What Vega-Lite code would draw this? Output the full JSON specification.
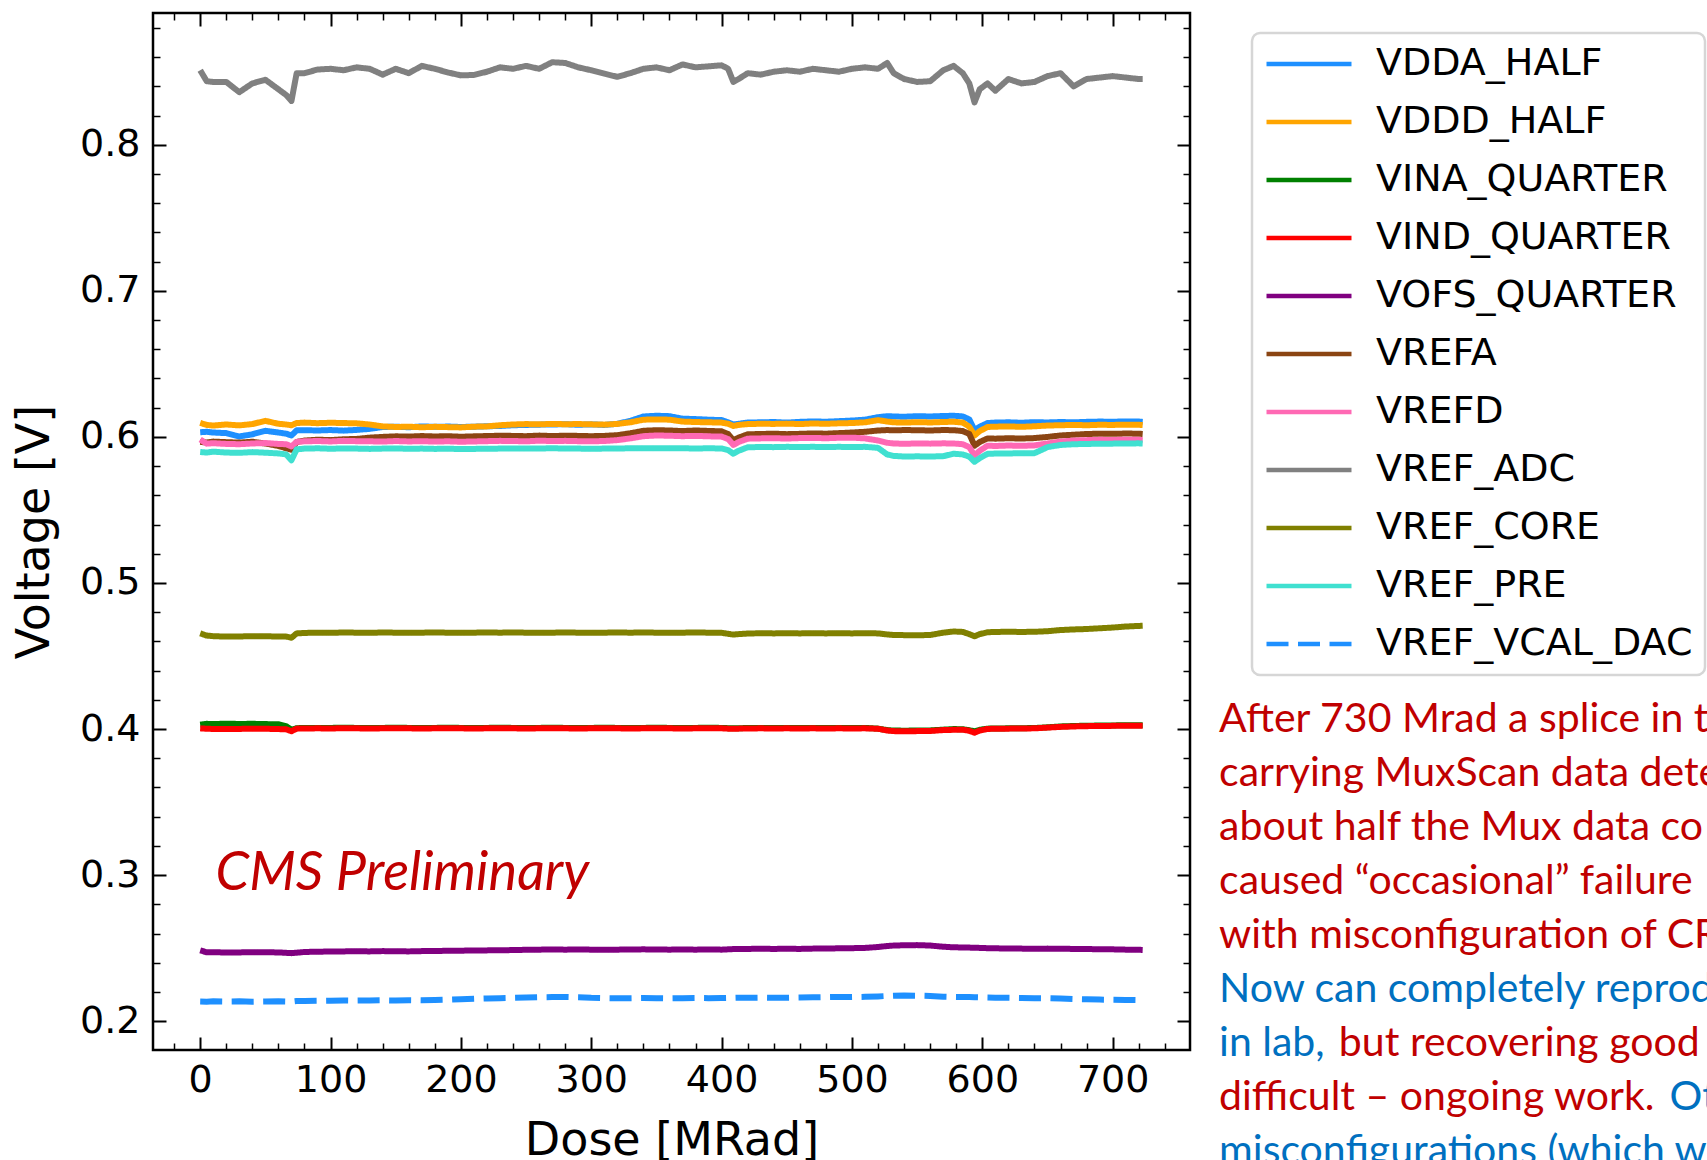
{
"$schema": "https://vega.github.io/schema/vega-lite/v6.json",
"width": 1037, "height": 1037,
"autosize": {"type": "none"},
"padding": {"left": 153, "top": 13, "right": 517, "bottom": 110},
"background": "white",
"config": {
  "font": "DejaVu Sans",
  "view": {"stroke": "black", "strokeWidth": 2.5},
  "axis": {"domain": false, "grid": false, "tickColor": "black", "labelColor": "black", "labelFont": "DejaVu Sans", "labelFontSize": 38, "titleFont": "DejaVu Sans", "titleFontSize": 46, "titleFontWeight": "normal", "titleColor": "black", "labelFlush": false, "labelOverlap": false}
},
"datasets": {"m": [
{"d":0,"VDDA_HALF":0.6032,"VDDD_HALF":0.6096,"VINA_QUARTER":0.4030,"VIND_QUARTER":0.4005,"VOFS_QUARTER":0.2485,"VREFA":0.5966,"VREFD":0.5982,"VREF_ADC":0.851,"VREF_CORE":0.4655,"VREF_PRE":0.5897,"VREF_VCAL_DAC":0.2135},
{"d":5,"VDDA_HALF":0.6035,"VDDD_HALF":0.6082,"VINA_QUARTER":0.4036,"VIND_QUARTER":0.4002,"VOFS_QUARTER":0.2472,"VREFA":0.5962,"VREFD":0.5954,"VREF_ADC":0.8435,"VREF_CORE":0.4640,"VREF_PRE":0.5893,"VREF_VCAL_DAC":0.2134},
{"d":10,"VDDA_HALF":0.6030,"VDDD_HALF":0.6078,"VINA_QUARTER":0.4034,"VIND_QUARTER":0.4001,"VOFS_QUARTER":0.2473,"VREFA":0.5968,"VREFD":0.5957,"VREF_ADC":0.843,"VREF_CORE":0.4636,"VREF_PRE":0.5899,"VREF_VCAL_DAC":0.2136},
{"d":20,"VDDA_HALF":0.6026,"VDDD_HALF":0.6085,"VINA_QUARTER":0.4037,"VIND_QUARTER":0.4000,"VOFS_QUARTER":0.2470,"VREFA":0.5964,"VREFD":0.5952,"VREF_ADC":0.843,"VREF_CORE":0.4633,"VREF_PRE":0.5893,"VREF_VCAL_DAC":0.2135},
{"d":30,"VDDA_HALF":0.6003,"VDDD_HALF":0.6079,"VINA_QUARTER":0.4035,"VIND_QUARTER":0.4001,"VOFS_QUARTER":0.2471,"VREFA":0.5961,"VREFD":0.5950,"VREF_ADC":0.836,"VREF_CORE":0.4634,"VREF_PRE":0.5891,"VREF_VCAL_DAC":0.2136},
{"d":40,"VDDA_HALF":0.6018,"VDDD_HALF":0.6088,"VINA_QUARTER":0.4036,"VIND_QUARTER":0.4003,"VOFS_QUARTER":0.2473,"VREFA":0.5967,"VREFD":0.5955,"VREF_ADC":0.842,"VREF_CORE":0.4636,"VREF_PRE":0.5896,"VREF_VCAL_DAC":0.2134},
{"d":50,"VDDA_HALF":0.6042,"VDDD_HALF":0.6110,"VINA_QUARTER":0.4034,"VIND_QUARTER":0.4002,"VOFS_QUARTER":0.2472,"VREFA":0.5955,"VREFD":0.5958,"VREF_ADC":0.8445,"VREF_CORE":0.4635,"VREF_PRE":0.5892,"VREF_VCAL_DAC":0.2135},
{"d":60,"VDDA_HALF":0.6030,"VDDD_HALF":0.6090,"VINA_QUARTER":0.4033,"VIND_QUARTER":0.4000,"VOFS_QUARTER":0.2471,"VREFA":0.5938,"VREFD":0.5952,"VREF_ADC":0.838,"VREF_CORE":0.4634,"VREF_PRE":0.5887,"VREF_VCAL_DAC":0.2136},
{"d":66,"VDDA_HALF":0.6022,"VDDD_HALF":0.6085,"VINA_QUARTER":0.4020,"VIND_QUARTER":0.3998,"VOFS_QUARTER":0.2468,"VREFA":0.5922,"VREFD":0.5950,"VREF_ADC":0.834,"VREF_CORE":0.4633,"VREF_PRE":0.5880,"VREF_VCAL_DAC":0.2135},
{"d":70,"VDDA_HALF":0.6010,"VDDD_HALF":0.6080,"VINA_QUARTER":0.3995,"VIND_QUARTER":0.3985,"VOFS_QUARTER":0.2466,"VREFA":0.5912,"VREFD":0.5935,"VREF_ADC":0.830,"VREF_CORE":0.4625,"VREF_PRE":0.5840,"VREF_VCAL_DAC":0.2134},
{"d":74,"VDDA_HALF":0.6045,"VDDD_HALF":0.6095,"VINA_QUARTER":0.4006,"VIND_QUARTER":0.4003,"VOFS_QUARTER":0.2469,"VREFA":0.5966,"VREFD":0.5966,"VREF_ADC":0.849,"VREF_CORE":0.4655,"VREF_PRE":0.5915,"VREF_VCAL_DAC":0.2138},
{"d":80,"VDDA_HALF":0.6046,"VDDD_HALF":0.6098,"VINA_QUARTER":0.4008,"VIND_QUARTER":0.4004,"VOFS_QUARTER":0.2474,"VREFA":0.5975,"VREFD":0.5970,"VREF_ADC":0.849,"VREF_CORE":0.4658,"VREF_PRE":0.5920,"VREF_VCAL_DAC":0.2139},
{"d":90,"VDDA_HALF":0.6044,"VDDD_HALF":0.6094,"VINA_QUARTER":0.4007,"VIND_QUARTER":0.4005,"VOFS_QUARTER":0.2476,"VREFA":0.5981,"VREFD":0.5972,"VREF_ADC":0.8515,"VREF_CORE":0.4660,"VREF_PRE":0.5922,"VREF_VCAL_DAC":0.2140},
{"d":100,"VDDA_HALF":0.6047,"VDDD_HALF":0.6097,"VINA_QUARTER":0.4008,"VIND_QUARTER":0.4004,"VOFS_QUARTER":0.2477,"VREFA":0.5978,"VREFD":0.5969,"VREF_ADC":0.852,"VREF_CORE":0.4659,"VREF_PRE":0.5919,"VREF_VCAL_DAC":0.2141},
{"d":110,"VDDA_HALF":0.6043,"VDDD_HALF":0.6095,"VINA_QUARTER":0.4009,"VIND_QUARTER":0.4006,"VOFS_QUARTER":0.2478,"VREFA":0.5984,"VREFD":0.5973,"VREF_ADC":0.851,"VREF_CORE":0.4661,"VREF_PRE":0.5921,"VREF_VCAL_DAC":0.2142},
{"d":120,"VDDA_HALF":0.6048,"VDDD_HALF":0.6093,"VINA_QUARTER":0.4008,"VIND_QUARTER":0.4005,"VOFS_QUARTER":0.2479,"VREFA":0.5986,"VREFD":0.5971,"VREF_ADC":0.853,"VREF_CORE":0.4660,"VREF_PRE":0.5920,"VREF_VCAL_DAC":0.2141},
{"d":130,"VDDA_HALF":0.6055,"VDDD_HALF":0.6085,"VINA_QUARTER":0.4007,"VIND_QUARTER":0.4004,"VOFS_QUARTER":0.2478,"VREFA":0.5995,"VREFD":0.5970,"VREF_ADC":0.852,"VREF_CORE":0.4659,"VREF_PRE":0.5918,"VREF_VCAL_DAC":0.2142},
{"d":140,"VDDA_HALF":0.6068,"VDDD_HALF":0.6072,"VINA_QUARTER":0.4008,"VIND_QUARTER":0.4005,"VOFS_QUARTER":0.2480,"VREFA":0.6000,"VREFD":0.5968,"VREF_ADC":0.848,"VREF_CORE":0.4661,"VREF_PRE":0.5920,"VREF_VCAL_DAC":0.2143},
{"d":150,"VDDA_HALF":0.6070,"VDDD_HALF":0.6068,"VINA_QUARTER":0.4009,"VIND_QUARTER":0.4006,"VOFS_QUARTER":0.2479,"VREFA":0.6004,"VREFD":0.5972,"VREF_ADC":0.852,"VREF_CORE":0.4660,"VREF_PRE":0.5921,"VREF_VCAL_DAC":0.2142},
{"d":160,"VDDA_HALF":0.6066,"VDDD_HALF":0.6070,"VINA_QUARTER":0.4008,"VIND_QUARTER":0.4005,"VOFS_QUARTER":0.2478,"VREFA":0.6002,"VREFD":0.5969,"VREF_ADC":0.849,"VREF_CORE":0.4659,"VREF_PRE":0.5919,"VREF_VCAL_DAC":0.2144},
{"d":170,"VDDA_HALF":0.6072,"VDDD_HALF":0.6066,"VINA_QUARTER":0.4007,"VIND_QUARTER":0.4004,"VOFS_QUARTER":0.2480,"VREFA":0.6006,"VREFD":0.5971,"VREF_ADC":0.854,"VREF_CORE":0.4660,"VREF_PRE":0.5920,"VREF_VCAL_DAC":0.2143},
{"d":180,"VDDA_HALF":0.6069,"VDDD_HALF":0.6069,"VINA_QUARTER":0.4008,"VIND_QUARTER":0.4005,"VOFS_QUARTER":0.2481,"VREFA":0.6003,"VREFD":0.5968,"VREF_ADC":0.852,"VREF_CORE":0.4661,"VREF_PRE":0.5918,"VREF_VCAL_DAC":0.2145},
{"d":190,"VDDA_HALF":0.6071,"VDDD_HALF":0.6067,"VINA_QUARTER":0.4009,"VIND_QUARTER":0.4006,"VOFS_QUARTER":0.2482,"VREFA":0.6005,"VREFD":0.5970,"VREF_ADC":0.8495,"VREF_CORE":0.4660,"VREF_PRE":0.5919,"VREF_VCAL_DAC":0.2147},
{"d":200,"VDDA_HALF":0.6068,"VDDD_HALF":0.6065,"VINA_QUARTER":0.4008,"VIND_QUARTER":0.4005,"VOFS_QUARTER":0.2483,"VREFA":0.6001,"VREFD":0.5967,"VREF_ADC":0.8475,"VREF_CORE":0.4659,"VREF_PRE":0.5917,"VREF_VCAL_DAC":0.2150},
{"d":210,"VDDA_HALF":0.6070,"VDDD_HALF":0.6070,"VINA_QUARTER":0.4007,"VIND_QUARTER":0.4004,"VOFS_QUARTER":0.2484,"VREFA":0.6004,"VREFD":0.5969,"VREF_ADC":0.8478,"VREF_CORE":0.4660,"VREF_PRE":0.5918,"VREF_VCAL_DAC":0.2153},
{"d":220,"VDDA_HALF":0.6073,"VDDD_HALF":0.6072,"VINA_QUARTER":0.4008,"VIND_QUARTER":0.4005,"VOFS_QUARTER":0.2485,"VREFA":0.6006,"VREFD":0.5971,"VREF_ADC":0.850,"VREF_CORE":0.4661,"VREF_PRE":0.5919,"VREF_VCAL_DAC":0.2156},
{"d":230,"VDDA_HALF":0.6075,"VDDD_HALF":0.6080,"VINA_QUARTER":0.4009,"VIND_QUARTER":0.4006,"VOFS_QUARTER":0.2486,"VREFA":0.6008,"VREFD":0.5973,"VREF_ADC":0.853,"VREF_CORE":0.4660,"VREF_PRE":0.5920,"VREF_VCAL_DAC":0.2158},
{"d":240,"VDDA_HALF":0.6080,"VDDD_HALF":0.6085,"VINA_QUARTER":0.4008,"VIND_QUARTER":0.4005,"VOFS_QUARTER":0.2487,"VREFA":0.6007,"VREFD":0.5972,"VREF_ADC":0.852,"VREF_CORE":0.4661,"VREF_PRE":0.5921,"VREF_VCAL_DAC":0.2160},
{"d":250,"VDDA_HALF":0.6082,"VDDD_HALF":0.6088,"VINA_QUARTER":0.4007,"VIND_QUARTER":0.4004,"VOFS_QUARTER":0.2489,"VREFA":0.6005,"VREFD":0.5970,"VREF_ADC":0.854,"VREF_CORE":0.4660,"VREF_PRE":0.5920,"VREF_VCAL_DAC":0.2162},
{"d":260,"VDDA_HALF":0.6084,"VDDD_HALF":0.6086,"VINA_QUARTER":0.4008,"VIND_QUARTER":0.4005,"VOFS_QUARTER":0.2490,"VREFA":0.6009,"VREFD":0.5974,"VREF_ADC":0.852,"VREF_CORE":0.4659,"VREF_PRE":0.5921,"VREF_VCAL_DAC":0.2164},
{"d":270,"VDDA_HALF":0.6085,"VDDD_HALF":0.6089,"VINA_QUARTER":0.4009,"VIND_QUARTER":0.4006,"VOFS_QUARTER":0.2491,"VREFA":0.6006,"VREFD":0.5972,"VREF_ADC":0.8565,"VREF_CORE":0.4660,"VREF_PRE":0.5922,"VREF_VCAL_DAC":0.2165},
{"d":280,"VDDA_HALF":0.6087,"VDDD_HALF":0.6087,"VINA_QUARTER":0.4008,"VIND_QUARTER":0.4005,"VOFS_QUARTER":0.2490,"VREFA":0.6008,"VREFD":0.5973,"VREF_ADC":0.856,"VREF_CORE":0.4661,"VREF_PRE":0.5921,"VREF_VCAL_DAC":0.2166},
{"d":290,"VDDA_HALF":0.6083,"VDDD_HALF":0.6088,"VINA_QUARTER":0.4007,"VIND_QUARTER":0.4004,"VOFS_QUARTER":0.2491,"VREFA":0.6007,"VREFD":0.5971,"VREF_ADC":0.853,"VREF_CORE":0.4660,"VREF_PRE":0.5920,"VREF_VCAL_DAC":0.2164},
{"d":300,"VDDA_HALF":0.6086,"VDDD_HALF":0.6086,"VINA_QUARTER":0.4008,"VIND_QUARTER":0.4005,"VOFS_QUARTER":0.2490,"VREFA":0.6005,"VREFD":0.5970,"VREF_ADC":0.851,"VREF_CORE":0.4659,"VREF_PRE":0.5919,"VREF_VCAL_DAC":0.2160},
{"d":310,"VDDA_HALF":0.6082,"VDDD_HALF":0.6084,"VINA_QUARTER":0.4009,"VIND_QUARTER":0.4006,"VOFS_QUARTER":0.2489,"VREFA":0.6007,"VREFD":0.5972,"VREF_ADC":0.8487,"VREF_CORE":0.4660,"VREF_PRE":0.5920,"VREF_VCAL_DAC":0.2158},
{"d":320,"VDDA_HALF":0.6090,"VDDD_HALF":0.6089,"VINA_QUARTER":0.4008,"VIND_QUARTER":0.4005,"VOFS_QUARTER":0.2490,"VREFA":0.6012,"VREFD":0.5978,"VREF_ADC":0.8465,"VREF_CORE":0.4661,"VREF_PRE":0.5921,"VREF_VCAL_DAC":0.2157},
{"d":330,"VDDA_HALF":0.6110,"VDDD_HALF":0.6100,"VINA_QUARTER":0.4007,"VIND_QUARTER":0.4004,"VOFS_QUARTER":0.2491,"VREFA":0.6025,"VREFD":0.5990,"VREF_ADC":0.849,"VREF_CORE":0.4660,"VREF_PRE":0.5922,"VREF_VCAL_DAC":0.2158},
{"d":340,"VDDA_HALF":0.6140,"VDDD_HALF":0.6118,"VINA_QUARTER":0.4008,"VIND_QUARTER":0.4005,"VOFS_QUARTER":0.2492,"VREFA":0.6042,"VREFD":0.6005,"VREF_ADC":0.852,"VREF_CORE":0.4661,"VREF_PRE":0.5923,"VREF_VCAL_DAC":0.2159},
{"d":350,"VDDA_HALF":0.6145,"VDDD_HALF":0.6120,"VINA_QUARTER":0.4009,"VIND_QUARTER":0.4006,"VOFS_QUARTER":0.2491,"VREFA":0.6046,"VREFD":0.6010,"VREF_ADC":0.853,"VREF_CORE":0.4660,"VREF_PRE":0.5922,"VREF_VCAL_DAC":0.2158},
{"d":360,"VDDA_HALF":0.6142,"VDDD_HALF":0.6118,"VINA_QUARTER":0.4008,"VIND_QUARTER":0.4005,"VOFS_QUARTER":0.2490,"VREFA":0.6044,"VREFD":0.6008,"VREF_ADC":0.851,"VREF_CORE":0.4659,"VREF_PRE":0.5923,"VREF_VCAL_DAC":0.2157},
{"d":370,"VDDA_HALF":0.6125,"VDDD_HALF":0.6105,"VINA_QUARTER":0.4007,"VIND_QUARTER":0.4004,"VOFS_QUARTER":0.2491,"VREFA":0.6040,"VREFD":0.6005,"VREF_ADC":0.855,"VREF_CORE":0.4660,"VREF_PRE":0.5922,"VREF_VCAL_DAC":0.2158},
{"d":380,"VDDA_HALF":0.6122,"VDDD_HALF":0.6102,"VINA_QUARTER":0.4008,"VIND_QUARTER":0.4005,"VOFS_QUARTER":0.2490,"VREFA":0.6044,"VREFD":0.6007,"VREF_ADC":0.853,"VREF_CORE":0.4661,"VREF_PRE":0.5921,"VREF_VCAL_DAC":0.2159},
{"d":390,"VDDA_HALF":0.6118,"VDDD_HALF":0.6100,"VINA_QUARTER":0.4009,"VIND_QUARTER":0.4006,"VOFS_QUARTER":0.2491,"VREFA":0.6041,"VREFD":0.6004,"VREF_ADC":0.8537,"VREF_CORE":0.4660,"VREF_PRE":0.5922,"VREF_VCAL_DAC":0.2158},
{"d":400,"VDDA_HALF":0.6115,"VDDD_HALF":0.6098,"VINA_QUARTER":0.4008,"VIND_QUARTER":0.4005,"VOFS_QUARTER":0.2490,"VREFA":0.6038,"VREFD":0.6002,"VREF_ADC":0.8544,"VREF_CORE":0.4659,"VREF_PRE":0.5921,"VREF_VCAL_DAC":0.2159},
{"d":405,"VDDA_HALF":0.6100,"VDDD_HALF":0.6090,"VINA_QUARTER":0.4006,"VIND_QUARTER":0.4003,"VOFS_QUARTER":0.2492,"VREFA":0.6020,"VREFD":0.5985,"VREF_ADC":0.852,"VREF_CORE":0.4652,"VREF_PRE":0.5910,"VREF_VCAL_DAC":0.2160},
{"d":409,"VDDA_HALF":0.6085,"VDDD_HALF":0.6075,"VINA_QUARTER":0.4005,"VIND_QUARTER":0.4002,"VOFS_QUARTER":0.2494,"VREFA":0.5977,"VREFD":0.5945,"VREF_ADC":0.843,"VREF_CORE":0.4647,"VREF_PRE":0.5885,"VREF_VCAL_DAC":0.2160},
{"d":413,"VDDA_HALF":0.6090,"VDDD_HALF":0.6082,"VINA_QUARTER":0.4006,"VIND_QUARTER":0.4003,"VOFS_QUARTER":0.2495,"VREFA":0.5995,"VREFD":0.5965,"VREF_ADC":0.845,"VREF_CORE":0.4650,"VREF_PRE":0.5905,"VREF_VCAL_DAC":0.2161},
{"d":420,"VDDA_HALF":0.6098,"VDDD_HALF":0.6088,"VINA_QUARTER":0.4007,"VIND_QUARTER":0.4004,"VOFS_QUARTER":0.2495,"VREFA":0.6018,"VREFD":0.5988,"VREF_ADC":0.849,"VREF_CORE":0.4654,"VREF_PRE":0.5929,"VREF_VCAL_DAC":0.2160},
{"d":430,"VDDA_HALF":0.6100,"VDDD_HALF":0.6090,"VINA_QUARTER":0.4008,"VIND_QUARTER":0.4005,"VOFS_QUARTER":0.2496,"VREFA":0.6020,"VREFD":0.5990,"VREF_ADC":0.848,"VREF_CORE":0.4656,"VREF_PRE":0.5931,"VREF_VCAL_DAC":0.2161},
{"d":440,"VDDA_HALF":0.6102,"VDDD_HALF":0.6089,"VINA_QUARTER":0.4007,"VIND_QUARTER":0.4004,"VOFS_QUARTER":0.2495,"VREFA":0.6022,"VREFD":0.5991,"VREF_ADC":0.850,"VREF_CORE":0.4655,"VREF_PRE":0.5930,"VREF_VCAL_DAC":0.2160},
{"d":450,"VDDA_HALF":0.6098,"VDDD_HALF":0.6091,"VINA_QUARTER":0.4008,"VIND_QUARTER":0.4005,"VOFS_QUARTER":0.2496,"VREFA":0.6019,"VREFD":0.5989,"VREF_ADC":0.851,"VREF_CORE":0.4656,"VREF_PRE":0.5932,"VREF_VCAL_DAC":0.2161},
{"d":460,"VDDA_HALF":0.6103,"VDDD_HALF":0.6088,"VINA_QUARTER":0.4007,"VIND_QUARTER":0.4004,"VOFS_QUARTER":0.2495,"VREFA":0.6021,"VREFD":0.5992,"VREF_ADC":0.850,"VREF_CORE":0.4655,"VREF_PRE":0.5931,"VREF_VCAL_DAC":0.2162},
{"d":470,"VDDA_HALF":0.6106,"VDDD_HALF":0.6092,"VINA_QUARTER":0.4008,"VIND_QUARTER":0.4005,"VOFS_QUARTER":0.2497,"VREFA":0.6024,"VREFD":0.5993,"VREF_ADC":0.852,"VREF_CORE":0.4656,"VREF_PRE":0.5932,"VREF_VCAL_DAC":0.2164},
{"d":480,"VDDA_HALF":0.6104,"VDDD_HALF":0.6090,"VINA_QUARTER":0.4007,"VIND_QUARTER":0.4004,"VOFS_QUARTER":0.2498,"VREFA":0.6022,"VREFD":0.5991,"VREF_ADC":0.851,"VREF_CORE":0.4655,"VREF_PRE":0.5931,"VREF_VCAL_DAC":0.2165},
{"d":490,"VDDA_HALF":0.6108,"VDDD_HALF":0.6093,"VINA_QUARTER":0.4008,"VIND_QUARTER":0.4005,"VOFS_QUARTER":0.2499,"VREFA":0.6026,"VREFD":0.5994,"VREF_ADC":0.850,"VREF_CORE":0.4656,"VREF_PRE":0.5932,"VREF_VCAL_DAC":0.2166},
{"d":500,"VDDA_HALF":0.6112,"VDDD_HALF":0.6095,"VINA_QUARTER":0.4007,"VIND_QUARTER":0.4004,"VOFS_QUARTER":0.2500,"VREFA":0.6030,"VREFD":0.5995,"VREF_ADC":0.852,"VREF_CORE":0.4655,"VREF_PRE":0.5931,"VREF_VCAL_DAC":0.2165},
{"d":510,"VDDA_HALF":0.6118,"VDDD_HALF":0.6100,"VINA_QUARTER":0.4008,"VIND_QUARTER":0.4005,"VOFS_QUARTER":0.2502,"VREFA":0.6035,"VREFD":0.5990,"VREF_ADC":0.853,"VREF_CORE":0.4656,"VREF_PRE":0.5932,"VREF_VCAL_DAC":0.2167},
{"d":520,"VDDA_HALF":0.6135,"VDDD_HALF":0.6115,"VINA_QUARTER":0.4003,"VIND_QUARTER":0.4002,"VOFS_QUARTER":0.2508,"VREFA":0.6044,"VREFD":0.5975,"VREF_ADC":0.852,"VREF_CORE":0.4655,"VREF_PRE":0.5925,"VREF_VCAL_DAC":0.2170},
{"d":527,"VDDA_HALF":0.6142,"VDDD_HALF":0.6105,"VINA_QUARTER":0.3993,"VIND_QUARTER":0.3990,"VOFS_QUARTER":0.2515,"VREFA":0.6047,"VREFD":0.5960,"VREF_ADC":0.856,"VREF_CORE":0.4648,"VREF_PRE":0.5880,"VREF_VCAL_DAC":0.2173},
{"d":532,"VDDA_HALF":0.6140,"VDDD_HALF":0.6100,"VINA_QUARTER":0.3990,"VIND_QUARTER":0.3986,"VOFS_QUARTER":0.2518,"VREFA":0.6045,"VREFD":0.5955,"VREF_ADC":0.849,"VREF_CORE":0.4644,"VREF_PRE":0.5870,"VREF_VCAL_DAC":0.2175},
{"d":540,"VDDA_HALF":0.6138,"VDDD_HALF":0.6098,"VINA_QUARTER":0.3989,"VIND_QUARTER":0.3985,"VOFS_QUARTER":0.2520,"VREFA":0.6047,"VREFD":0.5953,"VREF_ADC":0.845,"VREF_CORE":0.4643,"VREF_PRE":0.5866,"VREF_VCAL_DAC":0.2176},
{"d":550,"VDDA_HALF":0.6142,"VDDD_HALF":0.6101,"VINA_QUARTER":0.3990,"VIND_QUARTER":0.3986,"VOFS_QUARTER":0.2521,"VREFA":0.6046,"VREFD":0.5955,"VREF_ADC":0.843,"VREF_CORE":0.4642,"VREF_PRE":0.5867,"VREF_VCAL_DAC":0.2175},
{"d":560,"VDDA_HALF":0.6140,"VDDD_HALF":0.6099,"VINA_QUARTER":0.3991,"VIND_QUARTER":0.3987,"VOFS_QUARTER":0.2518,"VREFA":0.6044,"VREFD":0.5954,"VREF_ADC":0.8435,"VREF_CORE":0.4644,"VREF_PRE":0.5866,"VREF_VCAL_DAC":0.2173},
{"d":570,"VDDA_HALF":0.6143,"VDDD_HALF":0.6102,"VINA_QUARTER":0.3996,"VIND_QUARTER":0.3993,"VOFS_QUARTER":0.2510,"VREFA":0.6047,"VREFD":0.5956,"VREF_ADC":0.851,"VREF_CORE":0.4660,"VREF_PRE":0.5868,"VREF_VCAL_DAC":0.2168},
{"d":578,"VDDA_HALF":0.6145,"VDDD_HALF":0.6104,"VINA_QUARTER":0.4000,"VIND_QUARTER":0.3995,"VOFS_QUARTER":0.2506,"VREFA":0.6046,"VREFD":0.5955,"VREF_ADC":0.854,"VREF_CORE":0.4668,"VREF_PRE":0.5885,"VREF_VCAL_DAC":0.2166},
{"d":585,"VDDA_HALF":0.6140,"VDDD_HALF":0.6098,"VINA_QUARTER":0.3999,"VIND_QUARTER":0.3996,"VOFS_QUARTER":0.2505,"VREFA":0.6040,"VREFD":0.5950,"VREF_ADC":0.849,"VREF_CORE":0.4665,"VREF_PRE":0.5880,"VREF_VCAL_DAC":0.2165},
{"d":590,"VDDA_HALF":0.6120,"VDDD_HALF":0.6070,"VINA_QUARTER":0.3992,"VIND_QUARTER":0.3988,"VOFS_QUARTER":0.2504,"VREFA":0.6020,"VREFD":0.5930,"VREF_ADC":0.842,"VREF_CORE":0.4650,"VREF_PRE":0.5865,"VREF_VCAL_DAC":0.2165},
{"d":594,"VDDA_HALF":0.6046,"VDDD_HALF":0.6010,"VINA_QUARTER":0.3985,"VIND_QUARTER":0.3975,"VOFS_QUARTER":0.2503,"VREFA":0.5940,"VREFD":0.5874,"VREF_ADC":0.829,"VREF_CORE":0.4635,"VREF_PRE":0.5830,"VREF_VCAL_DAC":0.2164},
{"d":598,"VDDA_HALF":0.6070,"VDDD_HALF":0.6040,"VINA_QUARTER":0.3995,"VIND_QUARTER":0.3990,"VOFS_QUARTER":0.2502,"VREFA":0.5965,"VREFD":0.5905,"VREF_ADC":0.838,"VREF_CORE":0.4650,"VREF_PRE":0.5855,"VREF_VCAL_DAC":0.2163},
{"d":604,"VDDA_HALF":0.6095,"VDDD_HALF":0.6068,"VINA_QUARTER":0.4003,"VIND_QUARTER":0.4001,"VOFS_QUARTER":0.2500,"VREFA":0.5990,"VREFD":0.5940,"VREF_ADC":0.842,"VREF_CORE":0.4663,"VREF_PRE":0.5884,"VREF_VCAL_DAC":0.2162},
{"d":610,"VDDA_HALF":0.6098,"VDDD_HALF":0.6070,"VINA_QUARTER":0.4004,"VIND_QUARTER":0.4002,"VOFS_QUARTER":0.2499,"VREFA":0.5988,"VREFD":0.5938,"VREF_ADC":0.837,"VREF_CORE":0.4665,"VREF_PRE":0.5886,"VREF_VCAL_DAC":0.2161},
{"d":620,"VDDA_HALF":0.6100,"VDDD_HALF":0.6072,"VINA_QUARTER":0.4005,"VIND_QUARTER":0.4003,"VOFS_QUARTER":0.2498,"VREFA":0.5991,"VREFD":0.5941,"VREF_ADC":0.845,"VREF_CORE":0.4666,"VREF_PRE":0.5887,"VREF_VCAL_DAC":0.2160},
{"d":630,"VDDA_HALF":0.6097,"VDDD_HALF":0.6069,"VINA_QUARTER":0.4006,"VIND_QUARTER":0.4004,"VOFS_QUARTER":0.2497,"VREFA":0.5989,"VREFD":0.5939,"VREF_ADC":0.842,"VREF_CORE":0.4665,"VREF_PRE":0.5888,"VREF_VCAL_DAC":0.2159},
{"d":640,"VDDA_HALF":0.6101,"VDDD_HALF":0.6073,"VINA_QUARTER":0.4007,"VIND_QUARTER":0.4005,"VOFS_QUARTER":0.2496,"VREFA":0.5992,"VREFD":0.5942,"VREF_ADC":0.843,"VREF_CORE":0.4666,"VREF_PRE":0.5889,"VREF_VCAL_DAC":0.2158},
{"d":650,"VDDA_HALF":0.6099,"VDDD_HALF":0.6078,"VINA_QUARTER":0.4012,"VIND_QUARTER":0.4010,"VOFS_QUARTER":0.2497,"VREFA":0.6000,"VREFD":0.5955,"VREF_ADC":0.847,"VREF_CORE":0.4670,"VREF_PRE":0.5930,"VREF_VCAL_DAC":0.2157},
{"d":660,"VDDA_HALF":0.6102,"VDDD_HALF":0.6080,"VINA_QUARTER":0.4018,"VIND_QUARTER":0.4015,"VOFS_QUARTER":0.2496,"VREFA":0.6010,"VREFD":0.5968,"VREF_ADC":0.849,"VREF_CORE":0.4678,"VREF_PRE":0.5945,"VREF_VCAL_DAC":0.2155},
{"d":670,"VDDA_HALF":0.6100,"VDDD_HALF":0.6082,"VINA_QUARTER":0.4021,"VIND_QUARTER":0.4018,"VOFS_QUARTER":0.2495,"VREFA":0.6015,"VREFD":0.5975,"VREF_ADC":0.840,"VREF_CORE":0.4682,"VREF_PRE":0.5950,"VREF_VCAL_DAC":0.2152},
{"d":680,"VDDA_HALF":0.6103,"VDDD_HALF":0.6080,"VINA_QUARTER":0.4023,"VIND_QUARTER":0.4020,"VOFS_QUARTER":0.2494,"VREFA":0.6020,"VREFD":0.5978,"VREF_ADC":0.845,"VREF_CORE":0.4685,"VREF_PRE":0.5952,"VREF_VCAL_DAC":0.2150},
{"d":690,"VDDA_HALF":0.6105,"VDDD_HALF":0.6083,"VINA_QUARTER":0.4024,"VIND_QUARTER":0.4021,"VOFS_QUARTER":0.2493,"VREFA":0.6022,"VREFD":0.5980,"VREF_ADC":0.846,"VREF_CORE":0.4690,"VREF_PRE":0.5953,"VREF_VCAL_DAC":0.2148},
{"d":700,"VDDA_HALF":0.6104,"VDDD_HALF":0.6082,"VINA_QUARTER":0.4025,"VIND_QUARTER":0.4022,"VOFS_QUARTER":0.2492,"VREFA":0.6021,"VREFD":0.5979,"VREF_ADC":0.847,"VREF_CORE":0.4695,"VREF_PRE":0.5954,"VREF_VCAL_DAC":0.2147},
{"d":710,"VDDA_HALF":0.6106,"VDDD_HALF":0.6084,"VINA_QUARTER":0.4026,"VIND_QUARTER":0.4022,"VOFS_QUARTER":0.2490,"VREFA":0.6023,"VREFD":0.5981,"VREF_ADC":0.846,"VREF_CORE":0.4702,"VREF_PRE":0.5955,"VREF_VCAL_DAC":0.2146},
{"d":720,"VDDA_HALF":0.6105,"VDDD_HALF":0.6083,"VINA_QUARTER":0.4026,"VIND_QUARTER":0.4023,"VOFS_QUARTER":0.2489,"VREFA":0.6022,"VREFD":0.5980,"VREF_ADC":0.845,"VREF_CORE":0.4706,"VREF_PRE":0.5956,"VREF_VCAL_DAC":0.2145},
{"d":723,"VDDA_HALF":0.6103,"VDDD_HALF":0.6081,"VINA_QUARTER":0.4026,"VIND_QUARTER":0.4023,"VOFS_QUARTER":0.2488,"VREFA":0.6020,"VREFD":0.5978,"VREF_ADC":0.845,"VREF_CORE":0.4707,"VREF_PRE":0.5955,"VREF_VCAL_DAC":0.2145}
]},
"layer": [
{
  "data": {"name": "m"},
  "transform": [{"fold": ["VDDA_HALF","VDDD_HALF","VINA_QUARTER","VIND_QUARTER","VOFS_QUARTER","VREFA","VREFD","VREF_ADC","VREF_CORE","VREF_PRE","VREF_VCAL_DAC"], "as": ["series","v"]}],
  "mark": {"type": "line", "strokeWidth": 6, "strokeJoin": "round", "strokeCap": "butt"},
  "encoding": {
    "x": {"field": "d", "type": "quantitative", "scale": {"domain": [-36.2, 759.3], "nice": false, "zero": false},
      "axis": {"orient": "bottom", "values": [0,100,200,300,400,500,600,700], "format": "d", "ticks": false, "labelPadding": 11, "title": "Dose [MRad]", "titlePadding": 19}},
    "y": {"field": "v", "type": "quantitative", "scale": {"domain": [0.1803, 0.8902], "nice": false, "zero": false},
      "axis": {"orient": "left", "values": [0.2,0.3,0.4,0.5,0.6,0.7,0.8], "format": ".1f", "ticks": false, "labelPadding": 13, "title": "Voltage [V]", "titlePadding": 21}},
    "color": {"field": "series", "type": "nominal",
      "scale": {"domain": ["VDDA_HALF","VDDD_HALF","VINA_QUARTER","VIND_QUARTER","VOFS_QUARTER","VREFA","VREFD","VREF_ADC","VREF_CORE","VREF_PRE","VREF_VCAL_DAC"],
                "range": ["#1E90FF","#FFA500","#008000","#FF0000","#800080","#8B4513","#FF69B4","#808080","#808000","#40E0D0","#1E90FF"]},
      "legend": {"title": null, "orient": "none", "legendX": 1099, "legendY": 20, "labelFont": "DejaVu Sans", "labelFontSize": 38, "labelColor": "black", "labelLimit": 0, "symbolSize": 7225, "symbolStrokeWidth": 4.5, "symbolType": "stroke", "clipHeight": 38, "rowPadding": 20, "labelOffset": 22, "padding": 12, "strokeColor": "#d6d6d6", "cornerRadius": 8, "fillColor": "white", "encode": {"legend": {"update": {"strokeWidth": {"value": 2.5}}}}}},
    "strokeDash": {"field": "series", "type": "nominal",
      "scale": {"domain": ["VDDA_HALF","VDDD_HALF","VINA_QUARTER","VIND_QUARTER","VOFS_QUARTER","VREFA","VREFD","VREF_ADC","VREF_CORE","VREF_PRE","VREF_VCAL_DAC"],
                "range": [[1,0],[1,0],[1,0],[1,0],[1,0],[1,0],[1,0],[1,0],[1,0],[1,0],[22,9.5]]},
      "legend": {"title": null, "orient": "none", "legendX": 1099, "legendY": 20, "labelFont": "DejaVu Sans", "labelFontSize": 38, "labelColor": "black", "labelLimit": 0, "symbolSize": 7225, "symbolStrokeWidth": 4.5, "symbolType": "stroke", "clipHeight": 38, "rowPadding": 20, "labelOffset": 22, "padding": 12, "strokeColor": "#d6d6d6", "cornerRadius": 8, "fillColor": "white", "encode": {"legend": {"update": {"strokeWidth": {"value": 2.5}}}}}}
  }
},
{
  "data": {"name": "m"},
  "transform": [{"fold": ["VREF_ADC"], "as": ["series","v"]}],
  "mark": {"type": "point", "opacity": 0},
  "encoding": {
    "x": {"field": "d", "type": "quantitative", "scale": {"domain": [-36.2, 759.3], "nice": false, "zero": false},
      "axis": {"orient": "bottom", "values": [0,100,200,300,400,500,600,700], "labels": false, "title": null, "tickSize": -13, "tickWidth": 2}},
    "y": {"field": "v", "type": "quantitative", "scale": {"domain": [0.1803, 0.8902], "nice": false, "zero": false},
      "axis": {"orient": "left", "values": [0.2,0.3,0.4,0.5,0.6,0.7,0.8], "labels": false, "title": null, "tickSize": -13, "tickWidth": 2}}
  }
},
{
  "data": {"name": "m"},
  "transform": [{"fold": ["VREF_ADC"], "as": ["series","v"]}],
  "mark": {"type": "point", "opacity": 0},
  "encoding": {
    "x": {"field": "d", "type": "quantitative", "scale": {"domain": [-36.2, 759.3], "nice": false, "zero": false},
      "axis": {"orient": "bottom", "values": [-20,20,40,60,80,120,140,160,180,220,240,260,280,320,340,360,380,420,440,460,480,520,540,560,580,620,640,660,680,720,740], "labels": false, "title": null, "tickSize": -7, "tickWidth": 1.5}},
    "y": {"field": "v", "type": "quantitative", "scale": {"domain": [0.1803, 0.8902], "nice": false, "zero": false},
      "axis": {"orient": "left", "values": [0.22,0.24,0.26,0.28,0.32,0.34,0.36,0.38,0.42,0.44,0.46,0.48,0.52,0.54,0.56,0.58,0.62,0.64,0.66,0.68,0.72,0.74,0.76,0.78,0.82,0.84,0.86,0.88], "labels": false, "title": null, "tickSize": -7, "tickWidth": 1.5}}
  }
},
{
  "data": {"name": "m"},
  "transform": [{"fold": ["VREF_ADC"], "as": ["series","v"]}],
  "mark": {"type": "point", "opacity": 0},
  "encoding": {
    "x": {"field": "d", "type": "quantitative", "scale": {"domain": [-36.2, 759.3], "nice": false, "zero": false},
      "axis": {"orient": "top", "values": [0,100,200,300,400,500,600,700], "labels": false, "title": null, "tickSize": -13, "tickWidth": 2}},
    "y": {"field": "v", "type": "quantitative", "scale": {"domain": [0.1803, 0.8902], "nice": false, "zero": false},
      "axis": {"orient": "right", "values": [0.2,0.3,0.4,0.5,0.6,0.7,0.8], "labels": false, "title": null, "tickSize": -13, "tickWidth": 2}}
  }
},
{
  "data": {"name": "m"},
  "transform": [{"fold": ["VREF_ADC"], "as": ["series","v"]}],
  "mark": {"type": "point", "opacity": 0},
  "encoding": {
    "x": {"field": "d", "type": "quantitative", "scale": {"domain": [-36.2, 759.3], "nice": false, "zero": false},
      "axis": {"orient": "top", "values": [-20,20,40,60,80,120,140,160,180,220,240,260,280,320,340,360,380,420,440,460,480,520,540,560,580,620,640,660,680,720,740], "labels": false, "title": null, "tickSize": -7, "tickWidth": 1.5}},
    "y": {"field": "v", "type": "quantitative", "scale": {"domain": [0.1803, 0.8902], "nice": false, "zero": false},
      "axis": {"orient": "right", "values": [0.22,0.24,0.26,0.28,0.32,0.34,0.36,0.38,0.42,0.44,0.46,0.48,0.52,0.54,0.56,0.58,0.62,0.64,0.66,0.68,0.72,0.74,0.76,0.78,0.82,0.84,0.86,0.88], "labels": false, "title": null, "tickSize": -7, "tickWidth": 1.5}}
  }
},
{
  "data": {"values": [{}]},
  "mark": {"type": "text", "text": "CMS Preliminary", "font": "Lato", "fontStyle": "italic", "fontSize": 54, "color": "#C00000", "align": "left", "baseline": "alphabetic"},
  "encoding": {
    "x": {"datum": 11.7, "type": "quantitative", "scale": {"domain": [-36.2, 759.3], "nice": false, "zero": false}, "axis": null},
    "y": {"datum": 0.2895, "type": "quantitative", "scale": {"domain": [0.1803, 0.8902], "nice": false, "zero": false}, "axis": null}
  }
},
{
  "data": {"values": [{}]},
  "mark": {"type": "text", "text": ["After 730 Mrad a splice in t", "carrying MuxScan data dete", "about half the Mux data co", "caused “occasional” failure", "with misconfiguration of CR"], "lineHeight": 54, "font": "Lato", "fontSize": 41, "color": "#C00000", "align": "left", "baseline": "alphabetic"},
  "encoding": {
    "x": {"datum": 781.6, "type": "quantitative", "scale": {"domain": [-36.2, 759.3], "nice": false, "zero": false}, "axis": null},
    "y": {"datum": 0.39778, "type": "quantitative", "scale": {"domain": [0.1803, 0.8902], "nice": false, "zero": false}, "axis": null}
  }
},
{
  "data": {"values": [{}]},
  "mark": {"type": "text", "text": ["Now can completely reprod", "in lab,"], "lineHeight": 54, "font": "Lato", "fontSize": 41, "color": "#0070C0", "align": "left", "baseline": "alphabetic"},
  "encoding": {
    "x": {"datum": 781.6, "type": "quantitative", "scale": {"domain": [-36.2, 759.3], "nice": false, "zero": false}, "axis": null},
    "y": {"datum": 0.21294, "type": "quantitative", "scale": {"domain": [0.1803, 0.8902], "nice": false, "zero": false}, "axis": null}
  }
},
{
  "data": {"values": [{}]},
  "mark": {"type": "text", "text": "but recovering good", "font": "Lato", "fontSize": 41, "color": "#C00000", "align": "left", "baseline": "alphabetic"},
  "encoding": {
    "x": {"datum": 873.5, "type": "quantitative", "scale": {"domain": [-36.2, 759.3], "nice": false, "zero": false}, "axis": null},
    "y": {"datum": 0.17597, "type": "quantitative", "scale": {"domain": [0.1803, 0.8902], "nice": false, "zero": false}, "axis": null}
  }
},
{
  "data": {"values": [{}]},
  "mark": {"type": "text", "text": "difficult – ongoing work.", "font": "Lato", "fontSize": 41, "color": "#C00000", "align": "left", "baseline": "alphabetic"},
  "encoding": {
    "x": {"datum": 781.6, "type": "quantitative", "scale": {"domain": [-36.2, 759.3], "nice": false, "zero": false}, "axis": null},
    "y": {"datum": 0.139, "type": "quantitative", "scale": {"domain": [0.1803, 0.8902], "nice": false, "zero": false}, "axis": null}
  }
},
{
  "data": {"values": [{}]},
  "mark": {"type": "text", "text": "Ot", "font": "Lato", "fontSize": 41, "color": "#0070C0", "align": "left", "baseline": "alphabetic"},
  "encoding": {
    "x": {"datum": 1127.1, "type": "quantitative", "scale": {"domain": [-36.2, 759.3], "nice": false, "zero": false}, "axis": null},
    "y": {"datum": 0.139, "type": "quantitative", "scale": {"domain": [0.1803, 0.8902], "nice": false, "zero": false}, "axis": null}
  }
},
{
  "data": {"values": [{}]},
  "mark": {"type": "text", "text": "misconfigurations (which w", "font": "Lato", "fontSize": 41, "color": "#0070C0", "align": "left", "baseline": "alphabetic"},
  "encoding": {
    "x": {"datum": 781.6, "type": "quantitative", "scale": {"domain": [-36.2, 759.3], "nice": false, "zero": false}, "axis": null},
    "y": {"datum": 0.10203, "type": "quantitative", "scale": {"domain": [0.1803, 0.8902], "nice": false, "zero": false}, "axis": null}
  }
}
],
"resolve": {"axis": {"x": "independent", "y": "independent"}}
}
